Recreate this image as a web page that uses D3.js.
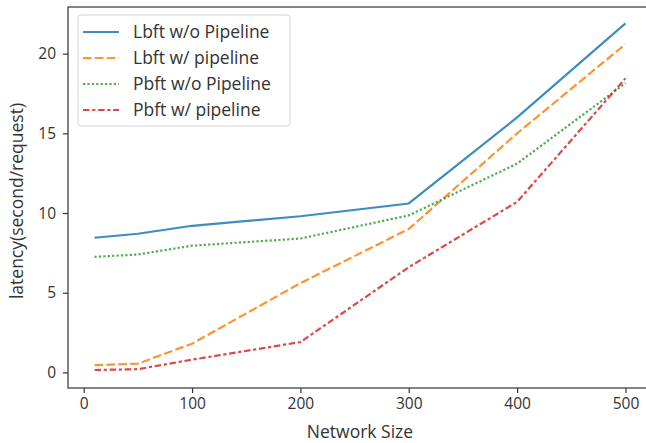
<!DOCTYPE html>
<html>
<head>
<meta charset="utf-8">
<script src="https://cdn.jsdelivr.net/npm/d3@7"></script>
<style>
  body { margin: 0; background: #fff; }
  svg { font-family: "Open Sans", sans-serif; display: block; }
</style>
</head>
<body>
<svg width="646" height="443"></svg>
<script>
const width = 646;
const height = 443;
const margin = { top: 7, right: -6, bottom: 55, left: 68 };

// data
const networkSize = [10, 50, 100, 200, 300, 400, 500];
const lbftNoPipe = [8.45, 8.7, 9.2, 9.8, 10.6, 16.0, 21.9];
const lbftPipe = [0.45, 0.55, 1.8, 5.6, 9.0, 15.0, 20.6];
const pbftNoPipe = [7.25, 7.4, 7.95, 8.4, 9.85, 13.1, 18.15];
const pbftPipe = [0.15, 0.2, 0.8, 1.9, 6.6, 10.7, 18.45];
const xTicks = [0, 100, 200, 300, 400, 500];
const yTicks = [0, 5, 10, 15, 20];

const seriesNames = ["Lbft w/o Pipeline", "Lbft w/ pipeline", "Pbft w/o Pipeline", "Pbft w/ pipeline"];
const seriesValues = [lbftNoPipe, lbftPipe, pbftNoPipe, pbftPipe];
const colors = ["#1f77b4", "#ff7f0e", "#2ca02c", "#d62728"];
const dashes = ["", "8.6,3.3", "2.2,2.2", "6.5,2.7,3.2,2.7"];

const svg = d3.select("svg");

const x = d3.scaleLinear()
  .domain([-14.5, 524.5])
  .range([margin.left, width - margin.right]);

const y = d3.scaleLinear()
  .domain([-0.98, 22.93])
  .range([height - margin.bottom, margin.top]);

// axes
const xAxis = svg.append("g")
  .attr("transform", `translate(0,${height - margin.bottom})`)
  .call(d3.axisBottom(x).tickValues(xTicks).tickSize(5).tickPadding(5).tickSizeOuter(0));

const yAxis = svg.append("g")
  .attr("transform", `translate(${margin.left},0)`)
  .call(d3.axisLeft(y).tickValues(yTicks).tickSize(5).tickPadding(7).tickSizeOuter(0));

[xAxis, yAxis].forEach(g => {
  g.selectAll("text").attr("font-size", 15.5).attr("fill", "#333").attr("font-family", "Open Sans");
  g.selectAll("line").attr("stroke", "#333").attr("stroke-width", 1.2);
  g.select(".domain").remove();
});

// frame
svg.append("rect")
  .attr("x", margin.left)
  .attr("y", margin.top)
  .attr("width", width - margin.right - margin.left)
  .attr("height", height - margin.bottom - margin.top)
  .attr("fill", "none")
  .attr("stroke", "#333")
  .attr("stroke-width", 1.2);

// lines
const line = d3.line()
  .x((d, i) => x(networkSize[i]))
  .y(d => y(d));

svg.selectAll("path.series")
  .data(seriesValues)
  .enter()
  .append("path")
  .attr("class", "series")
  .attr("d", line)
  .attr("fill", "none")
  .attr("stroke", (d, i) => colors[i])
  .attr("stroke-width", 2.2)
  .attr("stroke-dasharray", (d, i) => dashes[i])
  .attr("opacity", 0.85);

// axis labels
svg.append("text")
  .attr("x", 360)
  .attr("y", 438)
  .attr("text-anchor", "middle")
  .attr("font-size", 17.5)
  .attr("fill", "#333")
  .text("Network Size");

svg.append("text")
  .attr("transform", "translate(23,201) rotate(-90)")
  .attr("text-anchor", "middle")
  .attr("font-size", 17.5)
  .attr("fill", "#333")
  .text("latency(second/request)");

// legend
const legend = svg.append("g").attr("transform", "translate(78,15)");
legend.append("rect")
  .attr("width", 212)
  .attr("height", 111)
  .attr("rx", 3)
  .attr("fill", "#fff")
  .attr("fill-opacity", 0.8)
  .attr("stroke", "#d6d6d6");

seriesNames.forEach((name, i) => {
  const yy = 17 + i * 26;
  legend.append("line")
    .attr("x1", 5).attr("x2", 41)
    .attr("y1", yy).attr("y2", yy)
    .attr("stroke", colors[i])
    .attr("stroke-width", 2.2)
    .attr("stroke-dasharray", dashes[i])
    .attr("opacity", 0.85);
  legend.append("text")
    .attr("x", 55)
    .attr("y", yy + 6)
    .attr("font-size", 17.5)
    .attr("fill", "#333")
    .text(name);
});
</script>
</body>
</html>
